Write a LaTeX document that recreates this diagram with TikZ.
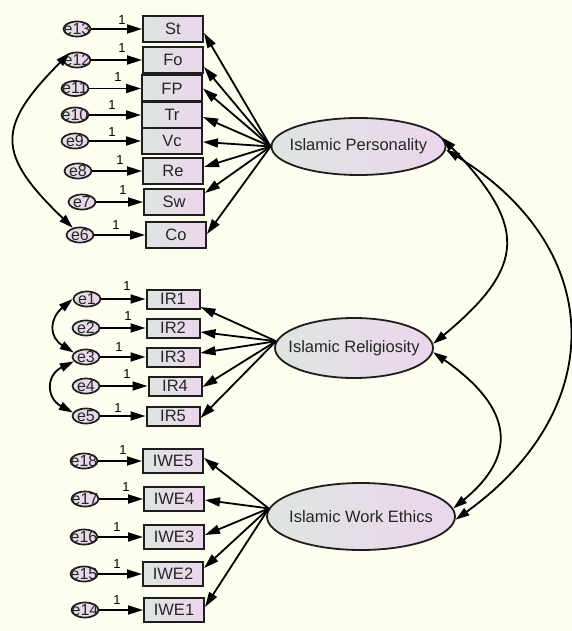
\documentclass[tikz,border=0pt]{standalone}
\usepackage{fontspec}
\setmainfont{Liberation Sans}
\usetikzlibrary{arrows.meta,shapes.geometric}
\definecolor{bgc}{RGB}{253,253,240}
\definecolor{fillL}{RGB}{222,229,225}
\definecolor{fillR}{RGB}{236,214,236}
\definecolor{edgec}{RGB}{30,30,30}
\begin{document}
\begin{tikzpicture}[x=1pt,y=-1pt,
  obs/.style={rectangle, draw=edgec, line width=2pt, left color=fillL, right color=fillR,
    minimum width=60pt, minimum height=26pt, inner sep=0pt, font=\fontsize{16.5}{16.5}\selectfont, text=black!85},
  obsir/.style={obs, minimum width=53pt, minimum height=19pt},
  obsiwe/.style={obs, minimum width=60pt, minimum height=24pt},
  err/.style={ellipse, draw=edgec, line width=1.7pt, left color=fillL!60!fillR, right color=fillR,
    minimum width=27pt, minimum height=15pt, inner sep=0pt,
    label={[font=\fontsize{16}{16}\selectfont, text=black!85]center:#1}},
  lat/.style={ellipse, draw=edgec, line width=1.8pt, left color=fillL, right color=fillR, inner sep=0pt},
  latlab/.style={font=\fontsize{16.5}{16.5}\selectfont, text=black!85},
  ld/.style={line width=1.8pt, draw=black, -{Triangle[length=15pt,width=9pt]}},
  cov/.style={line width=1.8pt, draw=black, {Triangle[length=14pt,width=8.5pt]}-{Triangle[length=14pt,width=8.5pt]}},
  one/.style={font=\fontsize{13}{13}\selectfont, inner sep=0pt}
]
\useasboundingbox (0,0) rectangle (572,631);
\fill[bgc] (0,0) rectangle (572,631);

% ---- Islamic Personality indicators
\node[obs] (St) at (173,29) {St};
\node[obs] (Fo) at (173,60) {Fo};
\node[obs] (FP) at (172,88.5) {FP};
\node[obs] (Tr) at (172,115) {Tr};
\node[obs] (Vc) at (172,141) {Vc};
\node[obs] (Re) at (173,171) {Re};
\node[obs] (Sw) at (174,202) {Sw};
\node[obs] (Co) at (176,235) {Co};

\node[err=e13] (e13) at (77,29) {};
\node[err=e12] (e12) at (77,60) {};
\node[err=e11] (e11) at (75,88.5) {};
\node[err=e10] (e10) at (75,115) {};
\node[err=e9] (e9) at (75,141) {};
\node[err=e8] (e8) at (78,171) {};
\node[err=e7] (e7) at (82,202) {};
\node[err=e6] (e6) at (80,235) {};

\node[one] (o13) at (122,20) {1};
\node[one] (o12) at (122,48) {1};
\node[one] (o11) at (118,77) {1};
\node[one] (o10) at (112,105) {1};
\node[one] (o9) at (112,132) {1};
\node[one] (o8) at (120,160) {1};
\node[one] (o7) at (123,190) {1};
\node[one] (o6) at (116,225) {1};

% ---- Islamic Religiosity indicators
\node[obsir] (IR1) at (173,299) {IR1};
\node[obsir] (IR2) at (173,328) {IR2};
\node[obsir] (IR3) at (173,357) {IR3};
\node[obsir] (IR4) at (175,386) {IR4};
\node[obsir] (IR5) at (173,416) {IR5};

\node[err=e1] (e1) at (87,299) {};
\node[err=e2] (e2) at (86,328) {};
\node[err=e3] (e3) at (86,357) {};
\node[err=e4] (e4) at (86,386) {};
\node[err=e5] (e5) at (86,416) {};

\node[one] (o1) at (127,286) {1};
\node[one] (o2) at (128,316) {1};
\node[one] (o3) at (119,347) {1};
\node[one] (o4) at (127,374) {1};
\node[one] (o5) at (118,408) {1};

% ---- Islamic Work Ethics indicators
\node[obsiwe] (IWE5) at (173,461) {IWE5};
\node[obsiwe] (IWE4) at (174,499) {IWE4};
\node[obsiwe] (IWE3) at (174,537) {IWE3};
\node[obsiwe] (IWE2) at (173,574) {IWE2};
\node[obsiwe] (IWE1) at (174,610) {IWE1};

\node[err=e18] (e18) at (84,461) {};
\node[err=e17] (e17) at (85,499) {};
\node[err=e16] (e16) at (84,537) {};
\node[err=e15] (e15) at (84,574) {};
\node[err=e14] (e14) at (85,610) {};

\node[one] (o18) at (123,450) {1};
\node[one] (o17) at (126,487) {1};
\node[one] (o16) at (117,527) {1};
\node[one] (o15) at (117,564) {1};
\node[one] (o14) at (117,600) {1};

% ---- latent variables
\node[lat, minimum width=174pt, minimum height=57pt] (IP) at (358.5,146.5) {};
\node[latlab] (IPt) at (IP.center) {Islamic Personality};
\node[lat, minimum width=158pt, minimum height=60pt] (IR) at (354,348) {};
\node[latlab] (IRt) at (IR.center) {Islamic Religiosity};
\node[lat, minimum width=188pt, minimum height=67pt] (IWE) at (361,516.5) {};
\node[latlab] (IWEt) at (IWE.center) {Islamic Work Ethics};

% ---- error paths
\foreach \e/\b in {e13/St,e12/Fo,e11/FP,e10/Tr,e9/Vc,e8/Re,e7/Sw,e6/Co,
                   e1/IR1,e2/IR2,e3/IR3,e4/IR4,e5/IR5,
                   e18/IWE5,e17/IWE4,e16/IWE3,e15/IWE2,e14/IWE1}
  \draw[ld] (\e.east) -- (\b.west);

% ---- loadings
\foreach \b/\s in {St/-4,Fo/-7,FP/0,Tr/-2,Vc/-1,Re/4,Sw/9,Co/1}
  \draw[ld] (IP.west) -- ([yshift=\s pt]\b.east);
\foreach \b/\s in {IR1/-8,IR2/-4,IR3/4,IR4/-1,IR5/-2}
  \draw[ld] (IR.175) -- ([yshift=\s pt]\b.east);
\foreach \b/\s in {IWE5/3,IWE4/-1,IWE3/2,IWE2/6,IWE1/3}
  \draw[ld] (IWE.175) -- ([yshift=\s pt]\b.east);

% ---- covariances among errors
\draw[cov] (e12.135) .. controls (-4,127) and (-4,154) .. (e6.135);
\draw[cov] (e1.180) .. controls (49,319) and (49,337) .. (e3.160);
\draw[cov] (e3.200) .. controls (46,375) and (46,398) .. (e5.165);

% ---- covariances among latents
\draw[cov] (IP.6) .. controls (527,226) and (527,266) .. (IR.3);
\draw[cov] (IR.357) .. controls (516,410) and (516,457) .. (IWE.5);
\draw[cov] (IP.358) .. controls (608,250) and (608,410) .. (IWE.358);
\end{tikzpicture}
\end{document}
